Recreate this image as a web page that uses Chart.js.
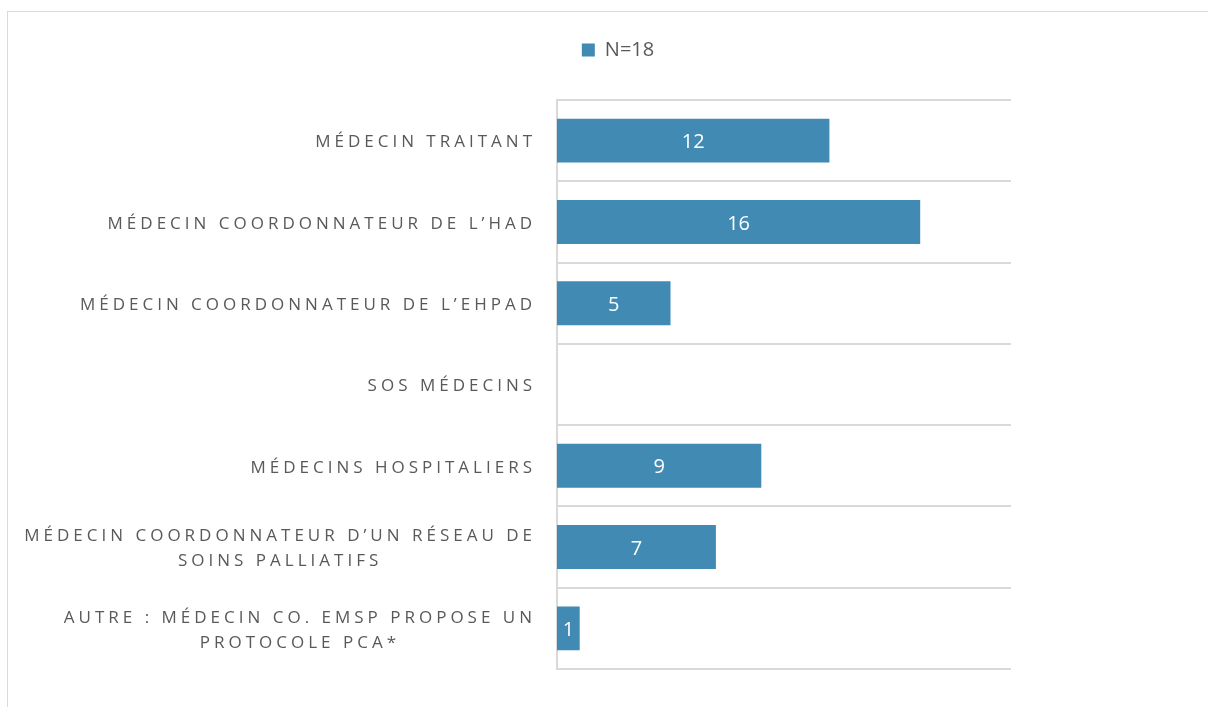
<!DOCTYPE html>
<html>
<head>
<meta charset="utf-8">
<script src="https://cdn.jsdelivr.net/npm/chart.js@4/dist/chart.umd.min.js"></script>
<style>
    html, body { margin: 0; padding: 0; background: #fff; overflow: hidden; }
    #frame {
        position: absolute; left: 7px; top: 11px;
        width: 1400px; height: 900px;
        border: 1.5px solid #d9d9d9;
    }
    #wrap { position: absolute; left: 0; top: 0; width: 1208px; height: 707px; }
</style>
</head>
<body>
<div id="frame"></div>
<div id="wrap"><canvas id="chart"></canvas></div>
<script>
// données du graphique
const categories = [
    'MÉDECIN TRAITANT',
    'MÉDECIN COORDONNATEUR DE L’HAD',
    'MÉDECIN COORDONNATEUR DE L’EHPAD',
    'SOS MÉDECINS',
    'MÉDECINS HOSPITALIERS',
    ['MÉDECIN COORDONNATEUR D’UN RÉSEAU DE', 'SOINS PALLIATIFS'],
    ['AUTRE : MÉDECIN CO. EMSP PROPOSE UN', 'PROTOCOLE PCA*']
];
const counts = [12, 16, 5, 0, 9, 7, 1];
const seriesLabel = 'N=18';
const xMax = 20;

const BAR_COLOR = '#418ab3';
const TEXT_COLOR = '#595959';
const GRID_COLOR = '#d9d9d9';

// étiquettes de l'axe Y (espacement des lettres, lignes centrées)
const categoryLabels = {
    id: 'categoryLabels',
    afterDraw(chart) {
        const ctx = chart.ctx;
        const yScale = chart.scales.y;
        const right = yScale.right - 23;
        ctx.save();
        ctx.font = '17px "Open Sans", sans-serif';
        ctx.fillStyle = TEXT_COLOR;
        ctx.letterSpacing = '4px';
        ctx.textBaseline = 'middle';
        ctx.textAlign = 'center';
        categories.forEach((label, i) => {
            const lines = Array.isArray(label) ? label : [label];
            const widths = lines.map(l => ctx.measureText(l).width);
            const maxW = Math.max(...widths);
            const cx = right - maxW / 2;
            const yc = yScale.getPixelForTick(i) + 2;
            const lh = 25;
            lines.forEach((l, j) => {
                const y = yc + (j - (lines.length - 1) / 2) * lh;
                ctx.fillText(l, cx + 2, y);
            });
        });
        ctx.restore();
    }
};

// valeurs dans les barres
const barValues = {
    id: 'barValues',
    afterDatasetsDraw(chart) {
        const ctx = chart.ctx;
        const meta = chart.getDatasetMeta(0);
        ctx.save();
        ctx.font = '20px "Open Sans", sans-serif';
        ctx.fillStyle = '#ffffff';
        ctx.textAlign = 'center';
        ctx.textBaseline = 'middle';
        meta.data.forEach((bar, i) => {
            const v = counts[i];
            if (!v) return;
            ctx.fillText(String(v), (bar.x + bar.base) / 2, bar.y + 2);
        });
        ctx.restore();
    }
};

Chart.defaults.font.family = '"Open Sans", sans-serif';
Chart.defaults.color = TEXT_COLOR;

new Chart(document.getElementById('chart'), {
    type: 'bar',
    data: {
        labels: categories,
        datasets: [{
            label: seriesLabel,
            data: counts,
            backgroundColor: BAR_COLOR,
            borderWidth: 0,
            barPercentage: 0.9,
            categoryPercentage: 0.6
        }]
    },
    options: {
        indexAxis: 'y',
        responsive: true,
        maintainAspectRatio: false,
        animation: false,
        layout: { padding: { left: 225, right: 197, top: 30, bottom: 38 } },
        plugins: {
            legend: {
                position: 'top',
                labels: {
                    boxWidth: 13,
                    boxHeight: 13,
                    padding: 10,
                    color: TEXT_COLOR,
                    font: { size: 20 }
                }
            },
            tooltip: { enabled: false }
        },
        scales: {
            x: {
                position: 'top',
                min: 0,
                max: xMax,
                ticks: { display: false },
                grid: { display: false },
                border: { display: false },
                afterFit(scale) { scale.height = 30; }
            },
            y: {
                ticks: { display: false },
                grid: { color: GRID_COLOR, lineWidth: 2, drawTicks: false },
                border: { display: true, color: GRID_COLOR, width: 2 },
                afterFit(scale) { scale.width = 332; }
            }
        }
    },
    plugins: [barValues, categoryLabels]
});
</script>
</body>
</html>
